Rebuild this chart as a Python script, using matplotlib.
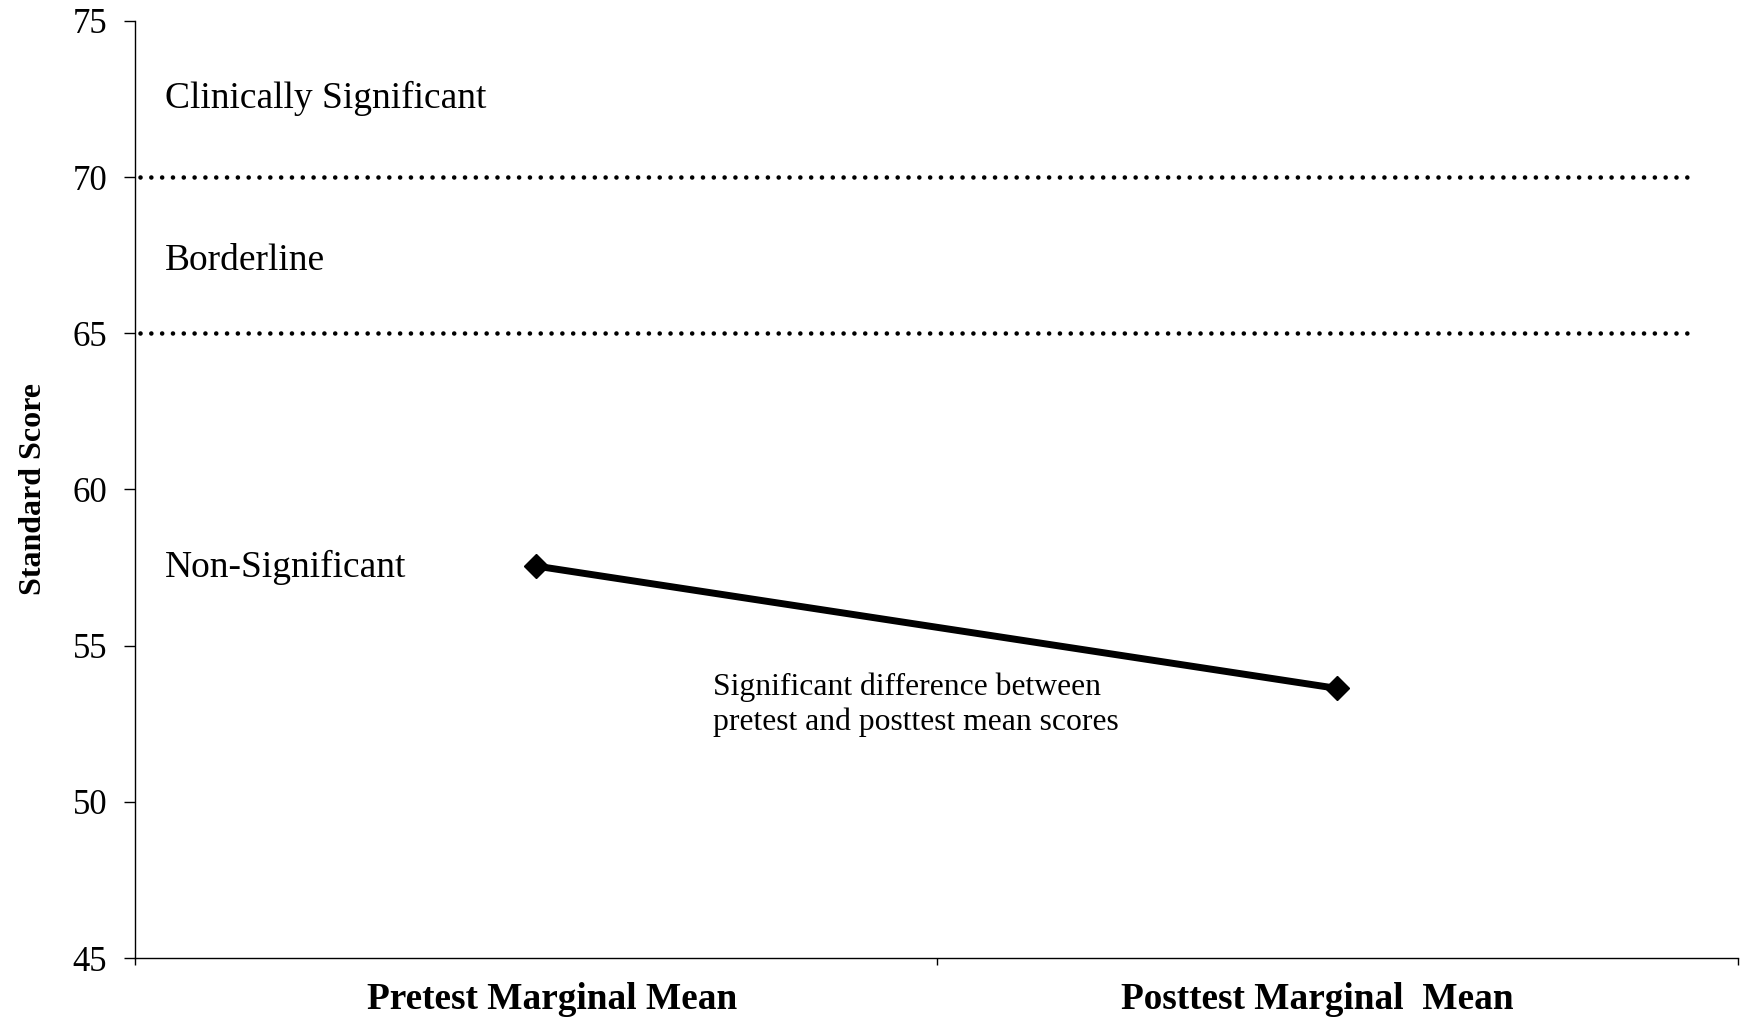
import matplotlib.pyplot as plt
from matplotlib.transforms import ScaledTranslation

plt.rcParams['font.family'] = ['Liberation Serif', 'DejaVu Serif']

# data
categories = ['Pretest Marginal Mean', 'Posttest Marginal  Mean']
means = [57.55, 53.63]
cutoffs = [70, 65]
zone_labels = ['Clinically Significant', 'Borderline', 'Non-Significant']
zone_label_y = [72.52, 67.33, 57.5]
note = 'Significant difference between\npretest and posttest mean scores'

fig = plt.figure(figsize=(17.44, 10.17), dpi=100)
ax = fig.add_axes([0.0774, 0.058, 0.9192, 0.9214])

x = list(range(len(categories)))
ax.plot(x, means, color='black', lw=5, marker='D', ms=12, zorder=3)

for c in cutoffs:
    ax.plot([-0.494, 1.449], [c, c], color='black', lw=3.3,
            ls=(0, (0.01, 2.35)), dash_capstyle='round')

for lab, yy in zip(zone_labels, zone_label_y):
    ax.text(-0.463, yy, lab, fontsize=27, va='center', ha='left')

ax.text(0.221, 53.1, note, fontsize=22.8, va='center', ha='left',
        linespacing=1.24)

ax.set_xlim(-0.5, 1.5)
ax.set_ylim(45, 75)
ax.set_yticks(range(45, 80, 5))
ax.tick_params(axis='y', labelsize=25, length=8, width=1, pad=12)

ax.set_xticks([-0.5, 0.5, 1.5])
ax.set_xticklabels([])
ax.set_xticks(x, minor=True)
ax.set_xticklabels(categories, minor=True, fontsize=26.8, fontweight='bold')
ax.tick_params(axis='x', which='major', length=5, width=1)
ax.tick_params(axis='x', which='minor', length=0, pad=17)

# nudge category labels as in the original
for lab, dx in zip(ax.get_xticklabels(minor=True), [16, -20]):
    lab.set_transform(lab.get_transform() + ScaledTranslation(dx / 100, 0, fig.dpi_scale_trans))

ax.set_ylabel('Standard Score', fontsize=23, fontweight='bold')
ax.yaxis.set_label_coords(-0.054, 0.5)

for s in ['top', 'right']:
    ax.spines[s].set_visible(False)
for s in ['left', 'bottom']:
    ax.spines[s].set_linewidth(1)

fig.savefig('out.png', dpi=100)
